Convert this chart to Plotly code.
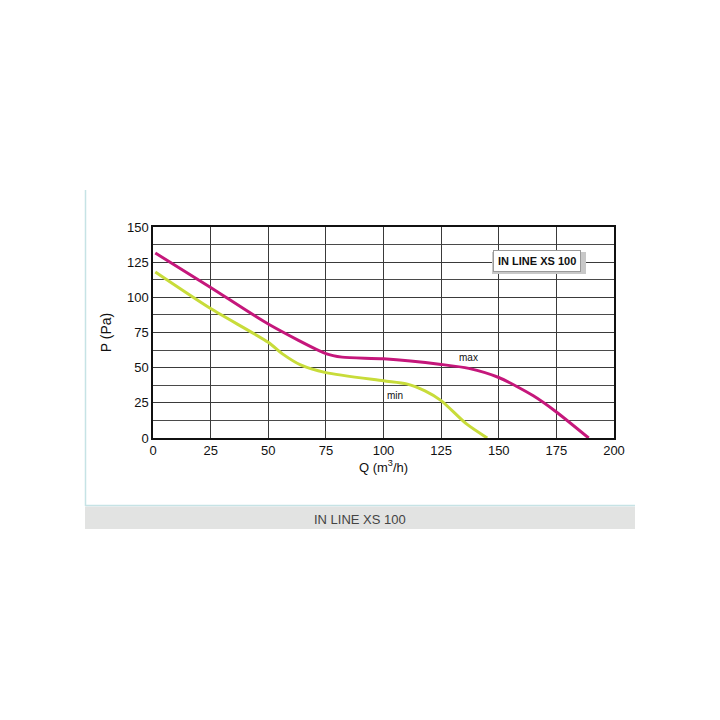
import plotly.graph_objects as go

# Data
q_max = [1, 25, 50, 75, 82, 100, 125, 137, 150, 165, 175, 189]
p_max = [131.5, 107, 81, 60, 57.5, 56.3, 52.3, 49.5, 43, 30, 18.5, 0]

q_min = [1, 25, 50, 56, 64, 75, 100, 110, 118, 125, 136, 145]
p_min = [118, 92, 68, 60, 52, 46.5, 40.7, 38.5, 33.5, 26.6, 10, 0]

x_ticks = [0, 25, 50, 75, 100, 125, 150, 175, 200]
y_ticks = [0, 25, 50, 75, 100, 125, 150]

MAGENTA = "#c5177b"
YELLOW = "#c8dc3a"
FONT = "Liberation Sans, Arial, sans-serif"

fig = go.Figure()
fig.add_trace(go.Scatter(x=q_min, y=p_min, mode="lines", name="min",
                         line=dict(color=YELLOW, width=3, shape="spline", smoothing=0.7),
                         showlegend=False, hoverinfo="skip"))
fig.add_trace(go.Scatter(x=q_max, y=p_max, mode="lines", name="max",
                         line=dict(color=MAGENTA, width=3, shape="spline", smoothing=0.7),
                         showlegend=False, hoverinfo="skip"))

L, R, T, B = 153, 614, 227, 438
W = H = 720

def px(xp):
    return (xp - L) / (R - L)

def py(yp):
    return (B - yp) / (B - T)

shapes = [
    # light blue panel frame (left and bottom)
    dict(type="line", xref="paper", yref="paper", x0=px(85.5), x1=px(85.5), y0=py(190), y1=py(506),
         line=dict(color="#c6e3e5", width=1.5)),
    dict(type="line", xref="paper", yref="paper", x0=px(85.5), x1=px(635), y0=py(505.5), y1=py(505.5),
         line=dict(color="#c6e3e5", width=1.5)),
    # gray caption band
    dict(type="rect", xref="paper", yref="paper", x0=px(85), x1=px(635), y0=py(529), y1=py(506.5),
         fillcolor="#e2e3e2", line=dict(width=0), layer="below"),
    # shadow for model label box
    dict(type="rect", xref="paper", yref="paper", x0=px(492), x1=px(586), y0=py(274), y1=py(252),
         fillcolor="#c8c8c8", line=dict(width=0), layer="above"),
]

annotations = [
    dict(x=166.5, y=125.8, xref="x", yref="y", text="<b>IN LINE XS 100</b>", showarrow=False,
         font=dict(family=FONT, size=11, color="#111"), bgcolor="white",
         bordercolor="#9a9a9a", borderwidth=1, borderpad=4),
    dict(x=137, y=57, xref="x", yref="y", text="max", showarrow=False,
         font=dict(family=FONT, size=10, color="#111")),
    dict(x=105, y=30.5, xref="x", yref="y", text="min", showarrow=False,
         font=dict(family=FONT, size=10, color="#111")),
    dict(x=px(360), y=py(519.5), xref="paper", yref="paper", xanchor="center", yanchor="middle",
         text="IN LINE XS 100", showarrow=False,
         font=dict(family="Liberation Sans Narrow, Liberation Sans, sans-serif", size=13, color="#444")),
]

fig.update_layout(
    width=W, height=H, autosize=False,
    margin=dict(l=L, r=W - R, t=T, b=H - B, pad=0),
    paper_bgcolor="white", plot_bgcolor="white",
    shapes=shapes, annotations=annotations,
    font=dict(family=FONT, size=13, color="#111"),
)
fig.update_xaxes(
    range=[0, 200], tickvals=x_ticks, ticktext=[str(v) for v in x_ticks],
    showgrid=True, gridcolor="#3a3a3a", gridwidth=1,
    showline=True, linecolor="#111", linewidth=1.5, mirror=True,
    ticks="", zeroline=False, tickfont=dict(size=13, color="#111"),
    title=dict(text="Q (m<sup>3</sup>/h)", font=dict(size=13, color="#111"), standoff=4),
)
fig.update_yaxes(
    range=[0, 150], tickvals=y_ticks, ticktext=[str(v) for v in y_ticks],
    showgrid=True, gridcolor="#3a3a3a", gridwidth=1,
    minor=dict(dtick=12.5, showgrid=True, gridcolor="#4a4a4a", gridwidth=1),
    showline=True, linecolor="#111", linewidth=1.5, mirror=True,
    ticks="", zeroline=False, tickfont=dict(size=13, color="#111"),
    title=dict(text="P (Pa)", font=dict(size=14, color="#111"), standoff=12),
)

fig.write_html("out.html")
